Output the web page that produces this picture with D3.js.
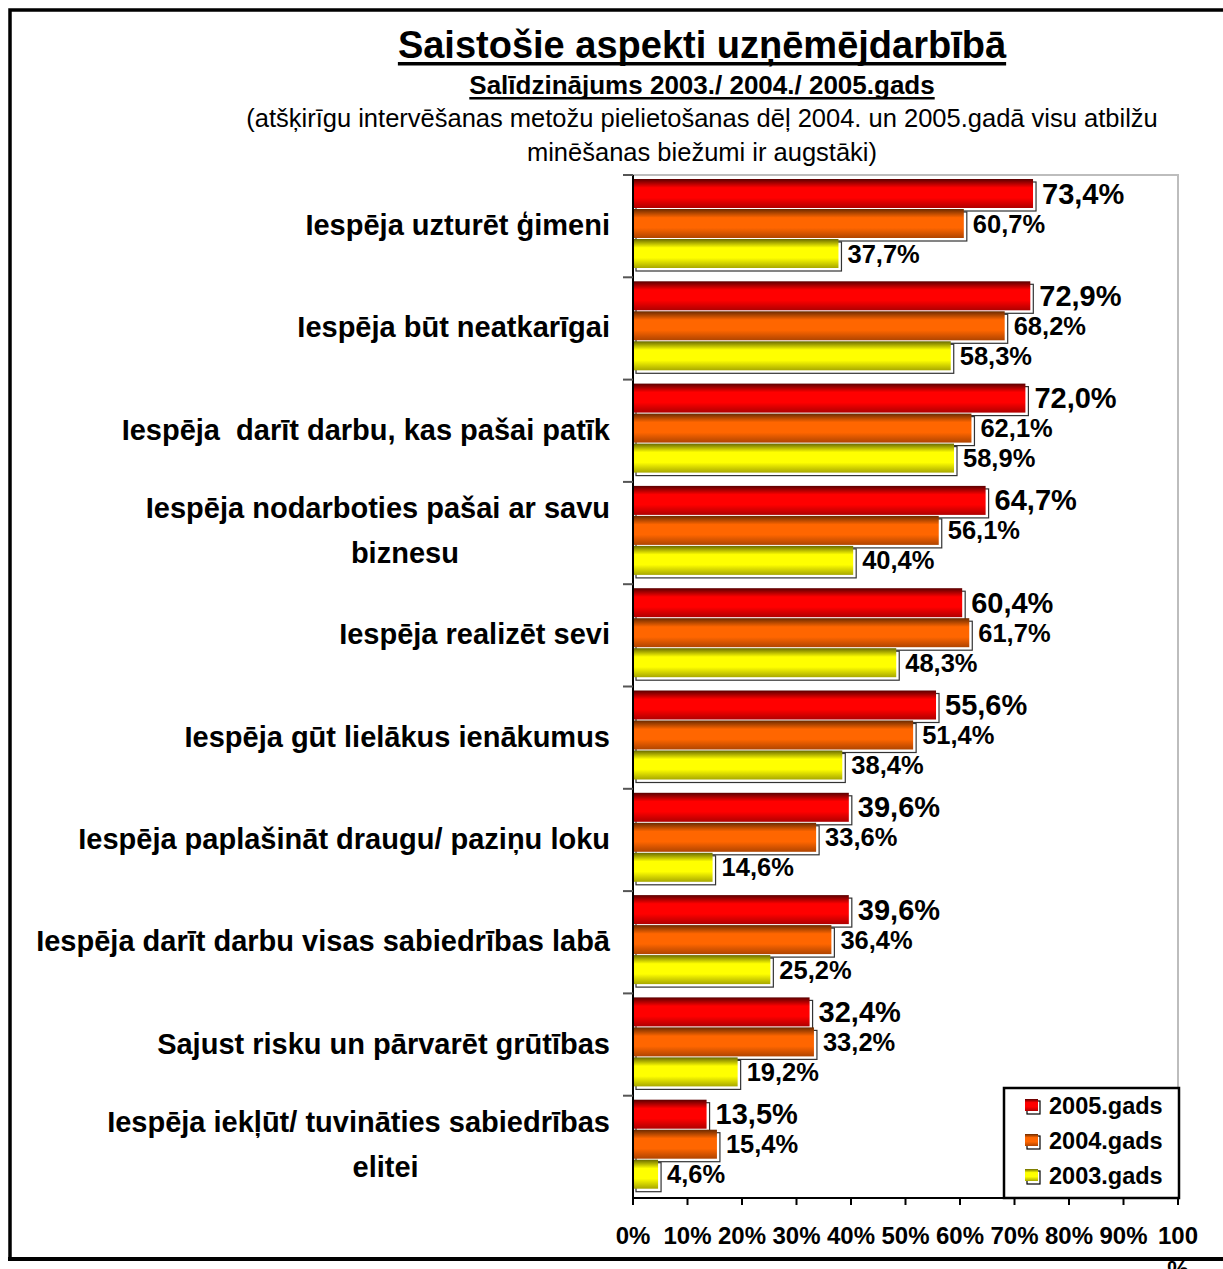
<!DOCTYPE html>
<html>
<head>
<meta charset="utf-8">
<script src="https://cdn.jsdelivr.net/npm/d3@7"></script>
<style>
  body { margin: 0; background: #fff; }
  svg text { font-family: "Liberation Sans", Arial, sans-serif; }
</style>
</head>
<body>
<svg id="chart" width="1223" height="1269"></svg>
<script>
const categories = [
  "Iespēja uzturēt ģimeni",
  "Iespēja būt neatkarīgai",
  "Iespēja  darīt darbu, kas pašai patīk",
  "Iespēja nodarboties pašai ar savu\nbiznesu",
  "Iespēja realizēt sevi",
  "Iespēja gūt lielākus ienākumus",
  "Iespēja paplašināt draugu/ paziņu loku",
  "Iespēja darīt darbu visas sabiedrības labā",
  "Sajust risku un pārvarēt grūtības",
  "Iespēja iekļūt/ tuvināties sabiedrības\nelitei"
]
const seriesNames = ["2005.gads", "2004.gads", "2003.gads"]
const values2005 = [73.4, 72.9, 72.0, 64.7, 60.4, 55.6, 39.6, 39.6, 32.4, 13.5]
const values2004 = [60.7, 68.2, 62.1, 56.1, 61.7, 51.4, 33.6, 36.4, 33.2, 15.4]
const values2003 = [37.7, 58.3, 58.9, 40.4, 48.3, 38.4, 14.6, 25.2, 19.2, 4.6]
const tickValues = [0, 10, 20, 30, 40, 50, 60, 70, 80, 90, 100]

const seriesValues = [values2005, values2004, values2003]
const colors = [
  { dark: "#5a0000", mid: "#ff0000", low: "#b00000" },
  { dark: "#6a2a00", mid: "#ff6600", low: "#b04400" },
  { dark: "#6a6a00", mid: "#ffff00", low: "#a8a800" }
]

const svg = d3.select("#chart")
const defs = svg.append("defs")

colors.forEach(function (c, i) {
  const g = defs.append("linearGradient")
    .attr("id", "grad" + i)
    .attr("x1", 0).attr("y1", 0).attr("x2", 0).attr("y2", 1)
  g.append("stop").attr("offset", "0%").attr("stop-color", c.dark)
  g.append("stop").attr("offset", "30%").attr("stop-color", c.mid)
  g.append("stop").attr("offset", "65%").attr("stop-color", c.mid)
  g.append("stop").attr("offset", "100%").attr("stop-color", c.low)
})

// outer frame
svg.append("rect")
  .attr("x", 10).attr("y", 10)
  .attr("width", 1240).attr("height", 1249)
  .attr("fill", "none")
  .attr("stroke", "#000")
  .attr("stroke-width", 3.5)

// titles
const cx = 702
const title = svg.append("text")
  .attr("x", cx).attr("y", 58)
  .attr("text-anchor", "middle")
  .style("font-size", "38px").style("font-weight", "bold")
  .text("Saistošie aspekti uzņēmējdarbībā")
const tw = title.node().getComputedTextLength()
svg.append("rect")
  .attr("x", cx - tw / 2).attr("y", 62)
  .attr("width", tw).attr("height", 3.5)

const sub = svg.append("text")
  .attr("x", cx).attr("y", 94)
  .attr("text-anchor", "middle")
  .style("font-size", "26px").style("font-weight", "bold")
  .text("Salīdzinājums 2003./ 2004./ 2005.gads")
const sw = sub.node().getComputedTextLength()
svg.append("rect")
  .attr("x", cx - sw / 2).attr("y", 97)
  .attr("width", sw).attr("height", 2.5)

svg.append("text")
  .attr("x", cx).attr("y", 127)
  .attr("text-anchor", "middle")
  .style("font-size", "25.5px")
  .text("(atšķirīgu intervēšanas metožu pielietošanas dēļ 2004. un 2005.gadā visu atbilžu")
svg.append("text")
  .attr("x", cx).attr("y", 161)
  .attr("text-anchor", "middle")
  .style("font-size", "25.5px")
  .text("minēšanas biežumi ir augstāki)")

// scales
const x = d3.scaleLinear().domain([0, 100]).range([633, 1178])
const y = d3.scaleBand().domain(categories).range([175, 1198])
const yInner = d3.scaleBand().domain(seriesNames).range([4, 94])
const barH = yInner.bandwidth() - 1

// plot area border (grey top/right)
svg.append("path")
  .attr("d", "M" + x(0) + "," + y.range()[0] + "H" + x(100) + "V" + y.range()[1])
  .attr("fill", "none")
  .attr("stroke", "#bdbdbd")
  .attr("stroke-width", 2)

// bars
const groups = svg.append("g").selectAll("g")
  .data(categories)
  .join("g")
  .attr("transform", d => "translate(0," + y(d) + ")")

seriesNames.forEach(function (s, si) {
  const vals = seriesValues[si]
  // shadow box
  groups.append("rect")
    .attr("x", x(0) + 3)
    .attr("y", yInner(s) + 3)
    .attr("width", (d, i) => x(vals[i]) - x(0))
    .attr("height", barH)
    .attr("fill", "#fff")
    .attr("stroke", "#333")
    .attr("stroke-width", 1.2)
  groups.append("rect")
    .attr("x", x(0))
    .attr("y", yInner(s))
    .attr("width", (d, i) => x(vals[i]) - x(0))
    .attr("height", barH)
    .attr("fill", "url(#grad" + si + ")")
  groups.append("text")
    .attr("x", (d, i) => x(vals[i]) + 9)
    .attr("y", yInner(s) + barH / 2 + (si == 0 ? 10 : 9))
    .style("font-size", si == 0 ? "29px" : "25.5px")
    .style("font-weight", "bold")
    .text((d, i) => vals[i].toFixed(1).replace(".", ",") + "%")
})

// category axis
svg.append("line")
  .attr("x1", x(0)).attr("x2", x(0))
  .attr("y1", y.range()[0]).attr("y2", y.range()[1])
  .attr("stroke", "#000").attr("stroke-width", 2)
svg.append("g").selectAll("line")
  .data(categories)
  .join("line")
  .attr("x1", x(0) - 10).attr("x2", x(0))
  .attr("y1", d => y(d)).attr("y2", d => y(d))
  .attr("stroke", "#555").attr("stroke-width", 2)

groups.each(function (d) {
  const g = d3.select(this)
  const lines = d.split("\n")
  const mid = y.bandwidth() / 2
  if (lines.length == 1) {
    g.append("text")
      .attr("x", 610).attr("y", mid + 9)
      .attr("text-anchor", "end")
      .style("font-size", "29px").style("font-weight", "bold")
      .style("white-space", "pre")
      .text(lines[0])
  } else {
    const first = g.append("text")
      .attr("x", 610).attr("y", mid - 15)
      .attr("text-anchor", "end")
      .style("font-size", "29px").style("font-weight", "bold")
      .text(lines[0])
    const w = first.node().getComputedTextLength()
    g.append("text")
      .attr("x", 610 - w / 2 + 27).attr("y", mid + 30)
      .attr("text-anchor", "middle")
      .style("font-size", "29px").style("font-weight", "bold")
      .text(lines[1])
  }
})

// value axis
const xAxis = svg.append("g")
  .attr("transform", "translate(0," + y.range()[1] + ")")
xAxis.append("line")
  .attr("x1", x(0)).attr("x2", x(100))
  .attr("stroke", "#000").attr("stroke-width", 2)
xAxis.selectAll(".tick")
  .data(tickValues)
  .join("line")
  .attr("x1", d => x(d)).attr("x2", d => x(d))
  .attr("y1", 0).attr("y2", 7)
  .attr("stroke", "#000").attr("stroke-width", 2)
xAxis.selectAll(".lbl")
  .data(tickValues)
  .join("text")
  .attr("x", d => x(d))
  .attr("y", 46)
  .attr("text-anchor", "middle")
  .style("font-size", "24px").style("font-weight", "bold")
  .text(d => d == 100 ? "100" : d + "%")
xAxis.append("text")
  .attr("x", x(100)).attr("y", 80)
  .attr("text-anchor", "middle")
  .style("font-size", "24px").style("font-weight", "bold")
  .text("%")

// redraw frame bottom over the wrapped "%"
svg.append("rect")
  .attr("x", 8).attr("y", 1257)
  .attr("width", 1220).attr("height", 4)
  .attr("fill", "#000")

// legend
const legend = svg.append("g").attr("transform", "translate(1004,1088)")
legend.append("rect")
  .attr("width", 175).attr("height", 110)
  .attr("fill", "#fff").attr("stroke", "#000").attr("stroke-width", 2.5)
seriesNames.forEach(function (s, i) {
  const row = legend.append("g").attr("transform", "translate(0," + (18 + i * 35) + ")")
  row.append("rect")
    .attr("x", 23).attr("y", -5)
    .attr("width", 13).attr("height", 13)
    .attr("fill", "#fff").attr("stroke", "#000").attr("stroke-width", 1.2)
  row.append("rect")
    .attr("x", 21).attr("y", -7)
    .attr("width", 13).attr("height", 12)
    .attr("fill", "url(#grad" + i + ")")
  row.append("text")
    .attr("x", 45).attr("y", 8)
    .style("font-size", "23.5px").style("font-weight", "bold")
    .text(s)
})
</script>
</body>
</html>
